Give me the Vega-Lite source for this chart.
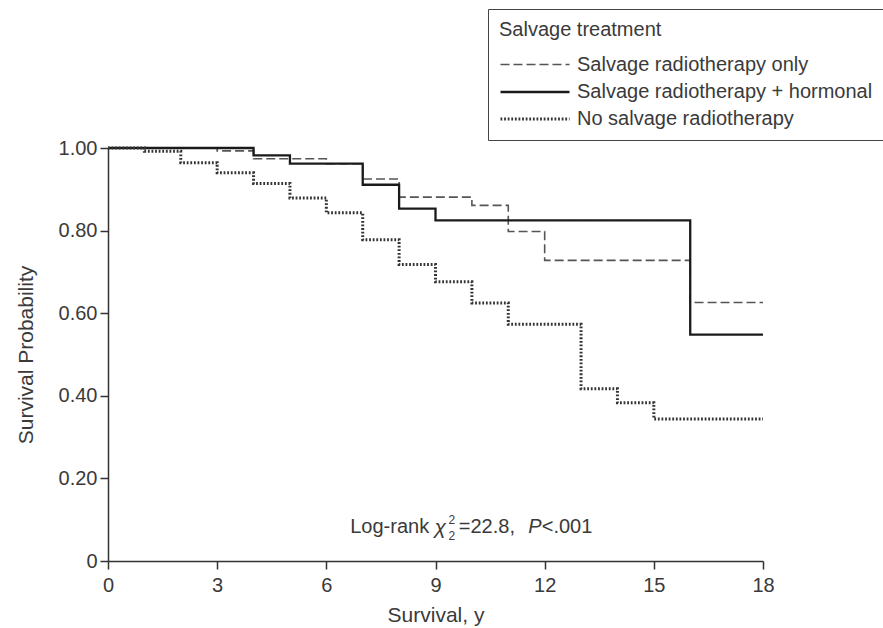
{
  "$schema": "https://vega.github.io/schema/vega-lite/v6.json",
  "width": 655,
  "height": 413,
  "autosize": {"type": "none"},
  "padding": {"left": 108, "top": 148, "right": 120, "bottom": 67},
  "background": "white",
  "config": {
    "view": {"stroke": null},
    "font": "Liberation Sans",
    "axis": {
      "grid": false,
      "domainColor": "#333",
      "domainWidth": 1.5,
      "tickColor": "#333",
      "tickWidth": 1.5,
      "tickSize": 8,
      "labelColor": "#3a3a3a",
      "titleColor": "#3a3a3a",
      "labelFont": "Liberation Sans",
      "titleFont": "Liberation Sans",
      "labelFontSize": 20,
      "titleFontSize": 21,
      "titleFontWeight": "normal"
    },
    "legend": {
      "orient": "none",
      "legendX": 380,
      "legendY": -139,
      "direction": "vertical",
      "titleFont": "Liberation Sans",
      "labelFont": "Liberation Sans",
      "titleFontSize": 20,
      "titleFontWeight": "normal",
      "titleColor": "#3a3a3a",
      "labelFontSize": 20,
      "labelColor": "#3a3a3a",
      "labelLimit": 400,
      "symbolType": "M-1,0H5",
      "symbolSize": 529,
      "labelOffset": 52,
      "padding": 11,
      "titlePadding": 12,
      "rowPadding": 4,
      "strokeColor": "#444",
      "fillColor": "white"
    }
  },
  "datasets": {
    "one": [{"k": "annotation"}]
  },
  "data": {
    "values": [
      {"group": "Salvage radiotherapy only", "t": 0, "s": 1.0},
      {"group": "Salvage radiotherapy only", "t": 3, "s": 0.993},
      {"group": "Salvage radiotherapy only", "t": 4, "s": 0.974},
      {"group": "Salvage radiotherapy only", "t": 6, "s": 0.962},
      {"group": "Salvage radiotherapy only", "t": 7, "s": 0.925},
      {"group": "Salvage radiotherapy only", "t": 8, "s": 0.881},
      {"group": "Salvage radiotherapy only", "t": 10, "s": 0.861},
      {"group": "Salvage radiotherapy only", "t": 11, "s": 0.798},
      {"group": "Salvage radiotherapy only", "t": 12, "s": 0.728},
      {"group": "Salvage radiotherapy only", "t": 16, "s": 0.626},
      {"group": "Salvage radiotherapy only", "t": 18, "s": 0.626},
      {"group": "Salvage radiotherapy + hormonal", "t": 0, "s": 1.0},
      {"group": "Salvage radiotherapy + hormonal", "t": 4, "s": 0.982},
      {"group": "Salvage radiotherapy + hormonal", "t": 5, "s": 0.962},
      {"group": "Salvage radiotherapy + hormonal", "t": 7, "s": 0.911},
      {"group": "Salvage radiotherapy + hormonal", "t": 8, "s": 0.853},
      {"group": "Salvage radiotherapy + hormonal", "t": 9, "s": 0.825},
      {"group": "Salvage radiotherapy + hormonal", "t": 16, "s": 0.548},
      {"group": "Salvage radiotherapy + hormonal", "t": 18, "s": 0.548},
      {"group": "No salvage radiotherapy", "t": 0, "s": 1.0},
      {"group": "No salvage radiotherapy", "t": 1, "s": 0.992},
      {"group": "No salvage radiotherapy", "t": 2, "s": 0.964},
      {"group": "No salvage radiotherapy", "t": 3, "s": 0.94},
      {"group": "No salvage radiotherapy", "t": 4, "s": 0.914},
      {"group": "No salvage radiotherapy", "t": 5, "s": 0.879},
      {"group": "No salvage radiotherapy", "t": 6, "s": 0.843},
      {"group": "No salvage radiotherapy", "t": 7, "s": 0.778},
      {"group": "No salvage radiotherapy", "t": 8, "s": 0.718},
      {"group": "No salvage radiotherapy", "t": 9, "s": 0.676},
      {"group": "No salvage radiotherapy", "t": 10, "s": 0.625},
      {"group": "No salvage radiotherapy", "t": 11, "s": 0.573},
      {"group": "No salvage radiotherapy", "t": 13, "s": 0.417},
      {"group": "No salvage radiotherapy", "t": 14, "s": 0.383},
      {"group": "No salvage radiotherapy", "t": 15, "s": 0.344},
      {"group": "No salvage radiotherapy", "t": 18, "s": 0.344}
    ]
  },
  "layer": [
    {
      "mark": {"type": "line", "interpolate": "step-after", "strokeCap": "butt"},
      "encoding": {
        "x": {
          "field": "t",
          "type": "quantitative",
          "scale": {"domain": [0, 18], "nice": false, "zero": true},
          "axis": {"values": [0, 3, 6, 9, 12, 15, 18], "format": "d", "title": "Survival, y", "labelPadding": 6, "titlePadding": 9, "labelFlush": false}
        },
        "y": {
          "field": "s",
          "type": "quantitative",
          "scale": {"domain": [0, 1], "nice": false},
          "axis": {
            "values": [0, 0.2, 0.4, 0.6, 0.8, 1.0],
            "labelExpr": "datum.value === 0 ? '0' : format(datum.value, '.2f')",
            "title": "Survival Probability",
            "labelPadding": 3,
            "titlePadding": 22,
            "labelFlush": false
          }
        },
        "detail": {"field": "group"},
        "strokeDash": {
          "field": "group",
          "type": "nominal",
          "title": "Salvage treatment",
          "scale": {
            "domain": ["Salvage radiotherapy only", "Salvage radiotherapy + hormonal", "No salvage radiotherapy"],
            "range": [[9, 4], [1, 0], [1.8, 1.8]]
          }
        },
        "strokeWidth": {
          "field": "group",
          "type": "nominal",
          "title": "Salvage treatment",
          "scale": {
            "domain": ["Salvage radiotherapy only", "Salvage radiotherapy + hormonal", "No salvage radiotherapy"],
            "range": [1.6, 3, 2]
          }
        },
        "color": {
          "field": "group",
          "type": "nominal",
          "title": "Salvage treatment",
          "scale": {
            "domain": ["Salvage radiotherapy only", "Salvage radiotherapy + hormonal", "No salvage radiotherapy"],
            "range": ["#555555", "#1a1a1a", "#333333"]
          }
        }
      }
    },
    {
      "data": {"name": "one"},
      "mark": {"type": "text", "align": "left", "baseline": "middle", "fontSize": 20, "color": "#3a3a3a"},
      "encoding": {"x": {"datum": 6.657, "type": "quantitative"}, "y": {"datum": 0.083, "type": "quantitative"}, "text": {"value": "Log-rank"}}
    },
    {
      "data": {"name": "one"},
      "mark": {"type": "text", "align": "left", "baseline": "middle", "fontSize": 21, "fontStyle": "italic", "color": "#3a3a3a"},
      "encoding": {"x": {"datum": 8.97, "type": "quantitative"}, "y": {"datum": 0.081, "type": "quantitative"}, "text": {"value": "χ"}}
    },
    {
      "data": {"name": "one"},
      "mark": {"type": "text", "align": "left", "baseline": "middle", "fontSize": 12, "color": "#3a3a3a"},
      "encoding": {"x": {"datum": 9.36, "type": "quantitative"}, "y": {"datum": 0.099, "type": "quantitative"}, "text": {"value": "2"}}
    },
    {
      "data": {"name": "one"},
      "mark": {"type": "text", "align": "left", "baseline": "middle", "fontSize": 12, "color": "#3a3a3a"},
      "encoding": {"x": {"datum": 9.36, "type": "quantitative"}, "y": {"datum": 0.060, "type": "quantitative"}, "text": {"value": "2"}}
    },
    {
      "data": {"name": "one"},
      "mark": {"type": "text", "align": "left", "baseline": "middle", "fontSize": 20, "color": "#3a3a3a"},
      "encoding": {"x": {"datum": 9.64, "type": "quantitative"}, "y": {"datum": 0.083, "type": "quantitative"}, "text": {"value": "=22.8,"}}
    },
    {
      "data": {"name": "one"},
      "mark": {"type": "text", "align": "left", "baseline": "middle", "fontSize": 20, "fontStyle": "italic", "color": "#3a3a3a"},
      "encoding": {"x": {"datum": 11.55, "type": "quantitative"}, "y": {"datum": 0.083, "type": "quantitative"}, "text": {"value": "P"}}
    },
    {
      "data": {"name": "one"},
      "mark": {"type": "text", "align": "left", "baseline": "middle", "fontSize": 20, "color": "#3a3a3a"},
      "encoding": {"x": {"datum": 11.92, "type": "quantitative"}, "y": {"datum": 0.083, "type": "quantitative"}, "text": {"value": "<.001"}}
    }
  ]
}
